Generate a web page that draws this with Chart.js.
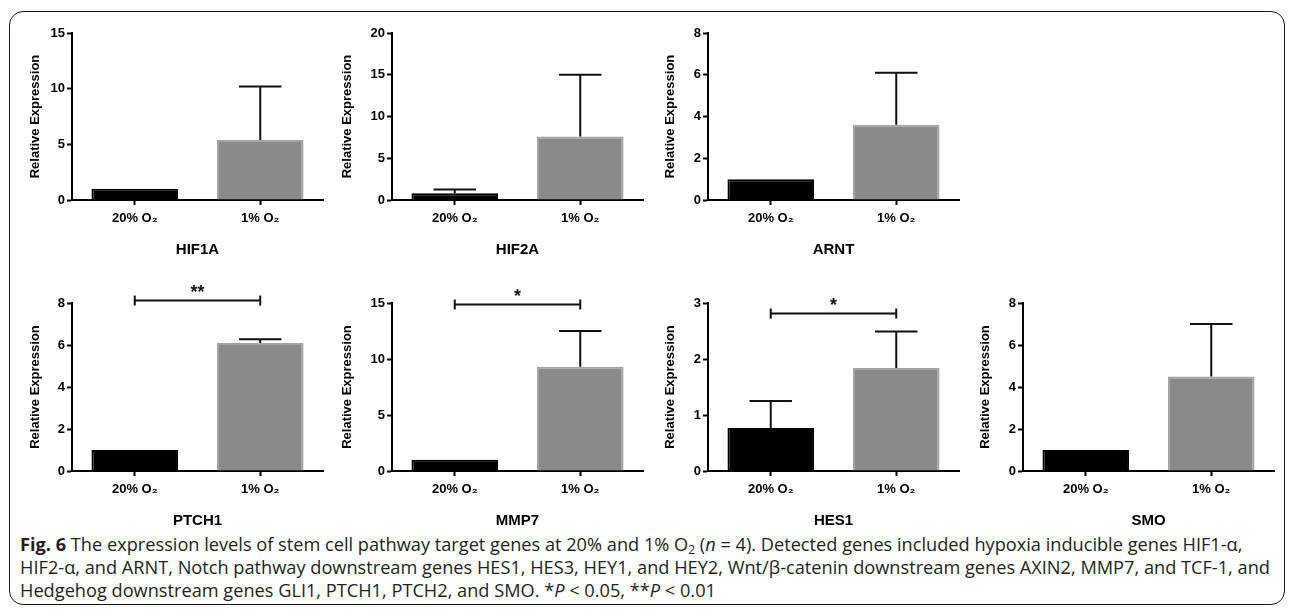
<!DOCTYPE html>
<html>
<head>
<meta charset="utf-8">
<script src="https://cdn.jsdelivr.net/npm/chart.js@4.4.1/dist/chart.umd.min.js"></script>
<style>
  html, body { margin: 0; padding: 0; background: #fff; }
  body { width: 1295px; height: 615px; position: relative; overflow: hidden; }
  #frame {
    position: absolute; left: 9px; top: 11px; width: 1274px; height: 592px;
    border: 1.6px solid #1a1a1a; border-radius: 14px;
  }
  canvas { position: absolute; }
  .cap {
    position: absolute; left: 20px; white-space: nowrap; line-height: 22px;
    font-family: "Open Sans", "Noto Sans", sans-serif; font-size: 18.2px; color: #231f20;
  }
  .cap b { font-weight: 700; }
  .cap sub { font-size: 12px; vertical-align: -3px; line-height: 0; }
</style>
</head>
<body>
<div id="frame"></div>
<div id="charts"></div>
<div class="cap" style="top:533px"><b>Fig. 6</b> The expression levels of stem cell pathway target genes at 20% and 1% O<sub>2</sub> (<i>n</i> = 4). Detected genes included hypoxia inducible genes HIF1-α,</div>
<div class="cap" style="top:556px">HIF2-α, and ARNT, Notch pathway downstream genes HES1, HES3, HEY1, and HEY2, Wnt/β-catenin downstream genes AXIN2, MMP7, and TCF-1, and</div>
<div class="cap" style="top:579px">Hedgehog downstream genes GLI1, PTCH1, PTCH2, and SMO. *<i>P</i> &lt; 0.05, **<i>P</i> &lt; 0.01</div>
<script>
// data
const genes = ['HIF1A', 'HIF2A', 'ARNT', 'PTCH1', 'MMP7', 'HES1', 'SMO'];
const conditions = ['20% O₂', '1% O₂'];
const mean20 = [1.0, 0.82, 1.0, 1.0, 1.0, 0.77, 1.0];
const mean1 = [5.4, 7.6, 3.6, 6.1, 9.3, 1.84, 4.5];
const errTop20 = [1.0, 1.25, 1.0, 1.0, 1.0, 1.25, 1.0];
const errTop1 = [10.2, 15.0, 6.1, 6.27, 12.5, 2.49, 7.0];
const yMax = [15, 20, 8, 8, 15, 3, 8];
const yStep = [5, 5, 2, 2, 5, 1, 2];
const sigStars = ['', '', '', '**', '*', '*', ''];
const sigLevel = [null, null, null, 8.14, 14.9, 2.82, null];

// layout of the small panels
const axisX = [72, 392, 708, 72, 392, 708, 1023];
const plotTop = [33, 33, 33, 303, 303, 303, 303];
const zeroY = [200, 200, 200, 471, 471, 471, 471];
const titleGap = [37, 45, 38, 37, 45, 38, 38];
const padTop = [20, 20, 20, 40, 40, 40, 40];
const PLOT_W = 251;
const Y_W = 56;
const X_H = 60;
const PAD_R = 6;

const FONT = "'Liberation Sans', Arial, sans-serif";

const errorBars = {
  id: 'errorBars',
  afterDraw(chart, args, opts) {
    const { ctx } = chart;
    const y = chart.scales.y;
    const meta = chart.getDatasetMeta(0);
    const vals = chart.data.datasets[0].data;
    ctx.save();
    ctx.strokeStyle = '#111';
    ctx.lineWidth = 2;
    meta.data.forEach((bar, i) => {
      const top = opts.tops[i];
      if (top <= vals[i]) return;
      const half = bar.width * 0.245;
      const yt = y.getPixelForValue(top);
      ctx.beginPath();
      ctx.moveTo(bar.x, y.getPixelForValue(vals[i]));
      ctx.lineTo(bar.x, yt);
      ctx.moveTo(bar.x - half, yt);
      ctx.lineTo(bar.x + half, yt);
      ctx.stroke();
    });
    if (opts.stars) {
      const a = meta.data[0].x, b = meta.data[1].x;
      const yb = Math.round(y.getPixelForValue(opts.level)) + 0.5;
      ctx.beginPath();
      ctx.moveTo(a, yb); ctx.lineTo(b, yb);
      ctx.moveTo(a, yb - 5); ctx.lineTo(a, yb + 5);
      ctx.moveTo(b, yb - 5); ctx.lineTo(b, yb + 5);
      ctx.stroke();
      ctx.fillStyle = '#111';
      ctx.font = 'bold 18px ' + FONT;
      ctx.textAlign = 'center';
      ctx.textBaseline = 'bottom';
      ctx.fillText(opts.stars, (a + b) / 2, yb + 2);
    }
    ctx.restore();
  }
};

const holder = document.getElementById('charts');
genes.forEach((gene, i) => {
  const cv = document.createElement('canvas');
  const left = axisX[i] - Y_W;
  const top = plotTop[i] - padTop[i];
  const w = Y_W + PLOT_W + PAD_R;
  const h = (zeroY[i] - top) + X_H;
  cv.width = w; cv.height = h;
  cv.style.left = left + 'px';
  cv.style.top = top + 'px';
  cv.style.width = w + 'px';
  cv.style.height = h + 'px';
  holder.appendChild(cv);

  const yTitlePad = Y_W - titleGap[i] - 7.8;

  new Chart(cv.getContext('2d'), {
    type: 'bar',
    data: {
      labels: conditions,
      datasets: [{
        data: [mean20[i], mean1[i]],
        backgroundColor: ['#000000', '#8a8a8a'],
        borderColor: ['#000000', '#a4a4a4'],
        borderWidth: 2,
        barPercentage: 0.69,
        categoryPercentage: 1.0,
      }],
    },
    options: {
      responsive: false,
      animation: false,
      devicePixelRatio: 1,
      layout: { padding: { top: padTop[i], right: PAD_R, left: 0, bottom: 0 } },
      plugins: {
        legend: { display: false },
        tooltip: { enabled: false },
        errorBars: { tops: [errTop20[i], errTop1[i]], stars: sigStars[i], level: sigLevel[i] },
      },
      scales: {
        x: {
          afterFit: (s) => { s.height = X_H; },
          grid: { display: true, drawOnChartArea: false, offset: false, tickLength: 5, tickWidth: 2, tickColor: '#000' },
          border: { display: true, color: '#000', width: 2 },
          ticks: { color: '#000', padding: 6, font: { family: FONT, size: 13, weight: 'bold' } },
          title: { display: true, text: gene, color: '#000', padding: { top: 0, bottom: 1 }, font: { family: FONT, size: 15, weight: 'bold' } },
        },
        y: {
          min: 0,
          max: yMax[i],
          afterFit: (s) => { s.width = Y_W; },
          grid: { display: true, drawOnChartArea: false, tickLength: 5, tickWidth: 2, tickColor: '#000' },
          border: { display: true, color: '#000', width: 2 },
          ticks: { stepSize: yStep[i], color: '#000', padding: 2, font: { family: FONT, size: 13, weight: 'bold' } },
          title: { display: true, text: 'Relative Expression', color: '#000', padding: { top: yTitlePad, bottom: 0 }, font: { family: FONT, size: 13, weight: 'bold' } },
        },
      },
    },
    plugins: [errorBars],
  });
});
</script>
</body>
</html>
